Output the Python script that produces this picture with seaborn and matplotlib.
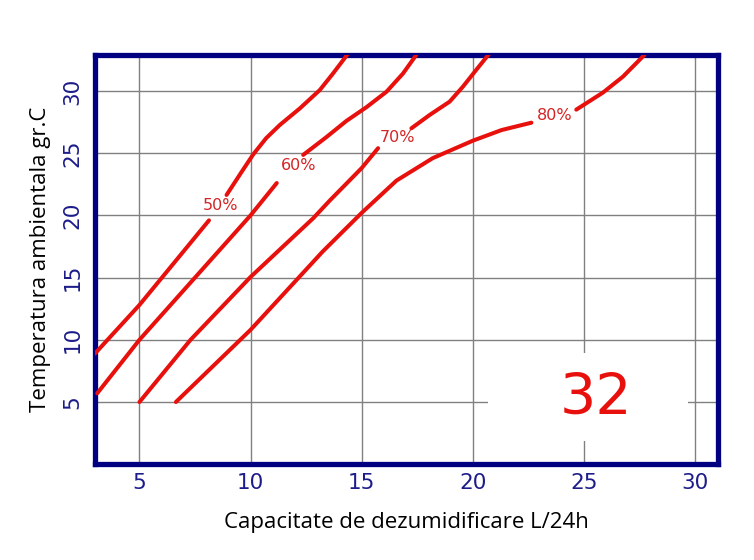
import matplotlib
matplotlib.use("Agg")
import matplotlib.pyplot as plt
import seaborn as sns
import pandas as pd
from matplotlib.patches import Rectangle

# relative humidity curves (x = L/24h, y = deg C)
# each curve is split in two where its label sits
rh_labels = ["50%", "60%", "70%", "80%"]

x50_a = [3.0, 5.0, 8.13]
y50_a = [8.9, 12.8, 19.6]
x50_b = [8.92, 9.6, 10.12, 10.7, 11.32, 12.22, 13.12, 13.71, 14.39]
y50_b = [21.64, 23.5, 24.9, 26.2, 27.27, 28.6, 30.08, 31.4, 33.0]

x60_a = [3.1, 5.0, 10.0, 11.18]
y60_a = [5.7, 10.0, 20.0, 22.6]
x60_b = [12.37, 13.42, 14.32, 15.22, 16.12, 16.86, 17.46]
y60_b = [24.86, 26.3, 27.6, 28.7, 29.94, 31.4, 32.9]

x70_a = [5.0, 7.3, 10.0, 12.82, 13.57, 15.0, 15.74]
y70_a = [5.0, 10.0, 15.05, 19.77, 21.2, 23.8, 25.4]
x70_b = [17.24, 18.06, 18.96, 19.56, 20.16, 20.76]
y70_b = [27.0, 28.07, 29.14, 30.35, 31.7, 33.03]

x80_a = [6.64, 10.0, 13.25, 15.0, 16.57, 18.2, 20.0, 21.3, 22.64]
y80_a = [5.0, 10.8, 17.1, 20.2, 22.8, 24.6, 26.0, 26.86, 27.45]
x80_b = [24.66, 25.86, 26.76, 27.73]
y80_b = [28.5, 29.87, 31.15, 32.9]

label_x = [8.65, 12.17, 16.6, 23.7]
label_y = [20.8, 24.0, 26.3, 28.0]

x_ticks = [5, 10, 15, 20, 25, 30]
y_ticks = [5, 10, 15, 20, 25, 30]

segments = [(x50_a, y50_a), (x50_b, y50_b), (x60_a, y60_a), (x60_b, y60_b),
            (x70_a, y70_a), (x70_b, y70_b), (x80_a, y80_a), (x80_b, y80_b)]

sns.set_style("white")

fig = plt.figure(figsize=(7.54, 5.6), dpi=100)
ax = fig.add_axes([0.126, 0.171, 0.826, 0.731])

for xs, ys in segments:
    df = pd.DataFrame({"x": xs, "y": ys})
    sns.lineplot(data=df, x="x", y="y", ax=ax, sort=False, estimator=None,
                 color="#e8100c", linewidth=2.9, solid_capstyle="round",
                 solid_joinstyle="round", zorder=3)

for lab, lx, ly in zip(rh_labels, label_x, label_y):
    ax.text(lx, ly, lab, color="#d42424", fontsize=11.5, ha="center", va="center",
            family="DejaVu Sans", zorder=4)

# white patch behind the big number hides the grid there
ax.add_patch(Rectangle((20.67, 1.86), 9.03, 7.08, facecolor="white",
                       edgecolor="none", zorder=1))
ax.text(25.57, 5.2, "32", color="#e8100c", fontsize=41, ha="center", va="center",
        family="DejaVu Sans", zorder=4)

ax.set_xlim(3, 31.03)
ax.set_ylim(0, 32.9)
ax.set_xticks(x_ticks)
ax.set_yticks(y_ticks)
ax.set_axisbelow(True)
ax.grid(True, color="#808080", linewidth=1.0)

for sp in ax.spines.values():
    sp.set_color("#000080")
    sp.set_linewidth(3.8)
    sp.set_visible(True)

ax.tick_params(axis="both", length=0, labelsize=15.5, labelcolor="#1c1c8a")
ax.tick_params(axis="x", pad=6)
ax.tick_params(axis="y", pad=9)
for t in ax.get_yticklabels():
    t.set_rotation(90)
    t.set_va("center")

ax.set_xlabel("Capacitate de dezumidificare L/24h", fontsize=16, family="Open Sans",
              color="black", labelpad=14)
ax.set_ylabel("Temperatura ambientala gr.C", fontsize=16, family="Open Sans",
              color="black", labelpad=8)

fig.savefig("out.png", dpi=100)
